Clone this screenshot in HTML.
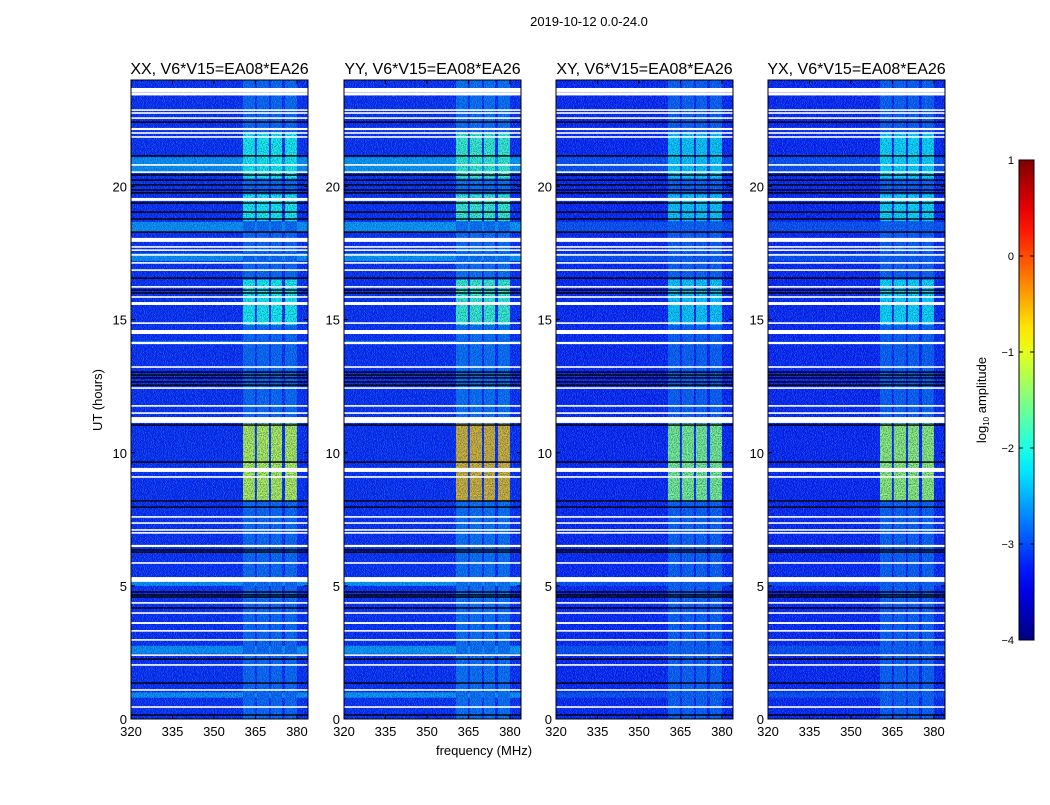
<!DOCTYPE html>
<html><head><meta charset="utf-8"><style>
body{margin:0;background:#fff;font-family:"Liberation Sans",sans-serif}
svg text{font-family:"Liberation Sans",sans-serif;fill:#000}
</style></head><body>
<svg id="fig" width="1050" height="800" viewBox="0 0 1050 800" xmlns="http://www.w3.org/2000/svg">
<defs>
<filter id="noise" x="0" y="0" width="100%" height="100%">
<feTurbulence type="fractalNoise" baseFrequency="1.2 0.9" numOctaves="1" seed="3"/>
<feColorMatrix type="matrix" values="0 0 0 0 0  0 0 0 0 0.05  0 0 0 0 0.3  3.2 0 0 0 -1.3"/>
</filter>
<filter id="noise2" x="0" y="0" width="100%" height="100%">
<feTurbulence type="fractalNoise" baseFrequency="1.1 1.0" numOctaves="1" seed="11"/>
<feColorMatrix type="matrix" values="0 0 0 0 0.1  0 0 0 0 0.8  0 0 0 0 1  0 3.2 0 0 -1.45"/>
</filter>
<linearGradient id="jet" x1="0" y1="1" x2="0" y2="0"></linearGradient>
</defs>
<text x="589" y="26" font-size="13" text-anchor="middle">2019-10-12 0.0-24.0</text>
<text transform="translate(102,400) rotate(-90)" font-size="13" text-anchor="middle">UT (hours)</text>
<text x="484" y="755" font-size="13" text-anchor="middle">frequency (MHz)</text>
<g id="panels"></g>
<g id="cbar"></g>
<text transform="translate(986,400) rotate(-90)" font-size="13" text-anchor="middle">log<tspan font-size="8" dy="3">10</tspan><tspan dy="-3"> amplitude</tspan></text>
</svg>
<script>
const panelTitles=["XX, V6*V15=EA08*EA26","YY, V6*V15=EA08*EA26","XY, V6*V15=EA08*EA26","YX, V6*V15=EA08*EA26"];
const xTicks=[320,335,350,365,380];
const yTicks=[0,5,10,15,20];
const cbTicks=[1,0,-1,-2,-3,-4];
const rfiChannels=[[360.5,364.8],[365.5,369.9],[370.6,374.6],[375.7,380]];
const rfiSegments=[[0,8.2,"low"],[8.2,11.1,"high"],[11.1,14.8,"low"],[14.8,16.5,"med"],[16.5,18.7,"low"],[18.7,19.7,"med"],[19.7,20.3,"low"],[20.3,22.0,"med"],[22.0,24,"low"]];
const rfiLevels=[{high:-1.1,med:-2.05,low:-2.95},{high:-0.5,med:-1.85,low:-2.9},{high:-1.45,med:-2.35,low:-3.0},{high:-1.3,med:-2.25,low:-3.0}];
const bgLevel=[-3.3,-3.3,-3.35,-3.35];
const brightBands=[[20.55,21.1],[18.3,18.67],[17.2,17.5],[14.1,14.2],[5.0,5.3],[2.45,2.75],[0.8,1.0]];
const brightLevel=[-2.7,-2.65,-3.1,-3.1];
const whiteRows=[[23.55,23.7],[23.42,23.54],[22.84,22.9],[22.73,22.79],[22.54,22.6],[22.12,22.2],[21.98,22.04],[21.83,21.89],[20.78,20.84],[20.51,20.57],[19.46,19.57],[17.92,18.07],[17.7,17.76],[17.58,17.64],[17.4,17.46],[17.1,17.16],[16.83,16.89],[16.2,16.26],[15.82,15.88],[15.55,15.66],[14.84,14.9],[14.46,14.61],[14.08,14.16],[13.19,13.25],[12.4,12.46],[11.73,11.79],[11.46,11.52],[11.12,11.34],[9.28,9.43],[9.06,9.12],[7.56,7.62],[7.33,7.39],[7.07,7.13],[6.96,7.02],[6.46,6.54],[5.83,5.89],[5.15,5.33],[4.33,4.39],[3.95,4.01],[3.57,3.64],[3.28,3.34],[2.94,3.0],[2.37,2.43],[2.0,2.06],[1.06,1.12],[0.42,0.48]];
const blackRows=[22.42,21.15,20.43,20.24,20.06,19.87,19.76,19.38,19.04,18.78,18.29,16.56,16.11,16.0,13.03,12.92,12.81,12.66,12.54,11.04,9.65,8.19,7.96,6.35,6.27,4.77,4.66,4.58,4.17,2.25,1.35,0.15];

const NS="http://www.w3.org/2000/svg";
const panelX=[131,344,556,768], PW=177, PT=80, PB=719;
const FMIN=320, FMAX=384, HMIN=0, HMAX=24;
function jet(v){const t=Math.max(0,Math.min(1,(v+4)/5));
 const r=Math.max(0,Math.min(1,1.5-Math.abs(4*t-3))),g=Math.max(0,Math.min(1,1.5-Math.abs(4*t-2))),b=Math.max(0,Math.min(1,1.5-Math.abs(4*t-1)));
 return `rgb(${Math.round(r*255)},${Math.round(g*255)},${Math.round(b*255)})`;}
function mk(tag,attrs,parent){const e=document.createElementNS(NS,tag);for(const k in attrs)e.setAttribute(k,attrs[k]);parent.appendChild(e);return e;}
const root=document.getElementById('panels');
panelX.forEach((x0,p)=>{
 const xs=f=>x0+(f-FMIN)/(FMAX-FMIN)*PW;
 const ys=h=>PB-(h-HMIN)/(HMAX-HMIN)*(PB-PT);
 const g=mk('g',{},root);
 
 
 const bg=mk('rect',{x:x0,y:PT,width:PW,height:PB-PT,fill:jet(bgLevel[p])},g);
 
 
 brightBands.forEach(b=>{const r=mk('rect',{x:x0,y:ys(b[1]),width:PW,height:ys(b[0])-ys(b[1]),fill:jet(brightLevel[p])},g);
  
  });
 rfiSegments.forEach(s=>{const lv=rfiLevels[p][s[2]];
  rfiChannels.forEach(c=>{const r=mk('rect',{x:xs(c[0]),y:ys(s[1]),width:xs(c[1])-xs(c[0]),height:ys(s[0])-ys(s[1]),fill:jet(lv)},g);
   
   });});
 mk('rect',{x:x0,y:PT,width:PW,height:PB-PT,filter:'url(#noise)',opacity:0.75},g);
 mk('rect',{x:x0,y:PT,width:PW,height:PB-PT,filter:'url(#noise2)',opacity:0.55},g);
 blackRows.forEach(h=>{const r=mk('rect',{x:x0,y:ys(h)-0.7,width:PW,height:1.4,fill:'#000'},g);
  
  });
 whiteRows.forEach(w=>{const r=mk('rect',{x:x0,y:ys(w[1]),width:PW,height:Math.max(1.3,ys(w[0])-ys(w[1])),fill:'#fff'},g);
  
  });
 mk('rect',{x:x0,y:PT,width:PW,height:PB-PT,fill:'none',stroke:'#000','stroke-width':1},g);
 const t=mk('text',{x:x0+PW/2,y:74,'font-size':16,'text-anchor':'middle'},g);t.textContent=panelTitles[p];
 
 
 xTicks.forEach(v=>{const x=xs(v);mk('line',{x1:x,x2:x,y1:PB,y2:PB-4,stroke:'#000'},g);mk('line',{x1:x,x2:x,y1:PT,y2:PT+4,stroke:'#000'},g);
  const l=mk('text',{x:x,y:PB+17,'font-size':13,'text-anchor':'middle'},g);l.textContent=v;
  
  });
 yTicks.forEach(v=>{const y=ys(v);mk('line',{x1:x0,x2:x0+4,y1:y,y2:y,stroke:'#000'},g);mk('line',{x1:x0+PW,x2:x0+PW-4,y1:y,y2:y,stroke:'#000'},g);
  const l=mk('text',{x:x0-4,y:y+5,'font-size':13,'text-anchor':'end'},g);l.textContent=v;
  
  });
});
const grad=document.getElementById('jet');
for(let i=0;i<=20;i++){mk('stop',{offset:i/20,'stop-color':jet(-4+5*i/20)},grad);}
const cb=document.getElementById('cbar');
mk('rect',{x:1019,y:160,width:15,height:480,fill:'url(#jet)',stroke:'#000'},cb);
cbTicks.forEach(v=>{const y=160+(1-v)*96;
 mk('line',{x1:1019,x2:1023,y1:y,y2:y,stroke:'#000'},cb);mk('line',{x1:1034,x2:1030,y1:y,y2:y,stroke:'#000'},cb);
 const l=mk('text',{x:1014,y:y+4,'font-size':11,'text-anchor':'end'},cb);l.textContent=v<0?'\u2212'+(-v):String(v);
 
 });
</script>
</body></html>
